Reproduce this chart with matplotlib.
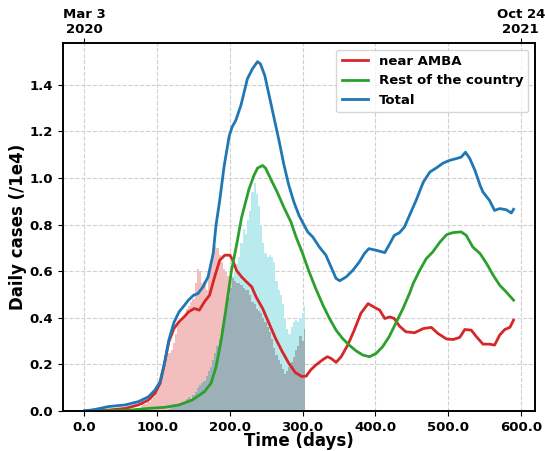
import numpy as np
import matplotlib
matplotlib.use("Agg")
import matplotlib.pyplot as plt

# ---- smoothed curves (daily cases / 1e4) ----
amba_days = [0, 33, 56, 74, 88, 97, 104, 110, 116, 123, 130, 137, 143, 151, 158, 165, 172, 179, 186, 193,
             200, 204, 209, 216, 223, 230, 236, 245, 254, 263, 272, 281, 290, 299, 305, 311, 318, 328, 334,
             339, 346, 353, 362, 371, 380, 390, 396, 406, 413, 420, 426, 433, 442, 454, 466, 477, 486, 498,
             507, 516, 523, 532, 539, 548, 557, 564, 571, 578, 585, 590]
amba_vals = [0.0, 0.004, 0.011, 0.026, 0.047, 0.076, 0.119, 0.204, 0.297, 0.354, 0.383, 0.404, 0.425, 0.44,
             0.433, 0.469, 0.497, 0.576, 0.647, 0.669, 0.669, 0.647, 0.604, 0.576, 0.554, 0.533, 0.49, 0.44,
             0.375, 0.31, 0.255, 0.205, 0.165, 0.148, 0.15, 0.176, 0.197, 0.221, 0.233, 0.226, 0.209, 0.233,
             0.283, 0.347, 0.419, 0.461, 0.45, 0.433, 0.397, 0.404, 0.397, 0.365, 0.34, 0.336, 0.354, 0.359,
             0.333, 0.309, 0.307, 0.316, 0.35, 0.347, 0.319, 0.287, 0.287, 0.283, 0.326, 0.35, 0.359, 0.39]

rest_days = [0, 56, 88, 111, 130, 148, 157, 165, 174, 181, 188, 195, 202, 209, 216, 226, 233, 238, 245, 249,
             256, 265, 274, 284, 291, 300, 309, 318, 328, 337, 346, 355, 364, 374, 383, 392, 401, 410, 419,
             428, 438, 447, 452, 461, 470, 479, 489, 498, 507, 518, 525, 534, 544, 553, 562, 571, 580, 590]
rest_vals = [0.0, 0.002, 0.011, 0.016, 0.026, 0.047, 0.066, 0.083, 0.119, 0.19, 0.304, 0.447, 0.6, 0.71,
             0.83, 0.95, 1.011, 1.043, 1.054, 1.043, 0.997, 0.94, 0.876, 0.811, 0.747, 0.676, 0.597, 0.526,
             0.454, 0.397, 0.347, 0.311, 0.283, 0.257, 0.24, 0.233, 0.247, 0.276, 0.319, 0.376, 0.44, 0.505,
             0.547, 0.604, 0.654, 0.683, 0.726, 0.757, 0.766, 0.769, 0.754, 0.704, 0.676, 0.633, 0.583, 0.54,
             0.511, 0.476]

total_days = [0, 15, 33, 56, 74, 88, 97, 104, 110, 116, 123, 130, 137, 143, 150, 156, 163, 170, 177, 181,
              186, 192, 199, 203, 208, 215, 219, 224, 231, 238, 242, 248, 254, 261, 268, 274, 281, 288, 295,
              300, 307, 314, 323, 332, 339, 346, 351, 360, 369, 378, 385, 391, 401, 413, 420, 426, 433, 440,
              447, 456, 466, 475, 484, 493, 502, 514, 518, 524, 530, 537, 544, 548, 557, 564, 571, 580, 587, 590]
total_vals = [0.0, 0.007, 0.019, 0.026, 0.04, 0.061, 0.09, 0.126, 0.204, 0.304, 0.38, 0.425, 0.452, 0.476,
              0.497, 0.504, 0.533, 0.576, 0.676, 0.80, 0.904, 1.05, 1.18, 1.219, 1.247, 1.311, 1.361, 1.426,
              1.469, 1.5, 1.49, 1.44, 1.354, 1.254, 1.154, 1.061, 0.969, 0.897, 0.84, 0.81, 0.769, 0.747,
              0.704, 0.669, 0.619, 0.569, 0.559, 0.576, 0.604, 0.64, 0.676, 0.697, 0.69, 0.68, 0.719, 0.754,
              0.765, 0.79, 0.84, 0.904, 0.983, 1.026, 1.044, 1.064, 1.076, 1.086, 1.09, 1.111, 1.083, 1.033,
              0.969, 0.94, 0.904, 0.861, 0.869, 0.864, 0.85, 0.866]

# ---- raw daily counts (shaded areas) ----
daily_days = np.arange(78, 306, 3)
amba_daily = [0.02, 0.03, 0.03, 0.04, 0.04, 0.05, 0.06, 0.08, 0.11, 0.14, 0.19, 0.22, 0.24, 0.25, 0.26,
              0.29, 0.33, 0.37, 0.38, 0.40, 0.41, 0.44, 0.45, 0.47, 0.48, 0.55, 0.61, 0.60, 0.55, 0.56,
              0.52, 0.58, 0.62, 0.66, 0.71, 0.70, 0.67, 0.64, 0.61, 0.60, 0.58, 0.57, 0.57, 0.56, 0.55,
              0.55, 0.54, 0.53, 0.52, 0.52, 0.50, 0.47, 0.46, 0.44, 0.43, 0.42, 0.40, 0.38, 0.36, 0.34,
              0.31, 0.27, 0.24, 0.22, 0.20, 0.18, 0.16, 0.17, 0.19, 0.21, 0.23, 0.26, 0.28, 0.32, 0.30, 0.35]
rest_daily = [0.0, 0.0, 0.0, 0.0, 0.0, 0.0, 0.0, 0.0, 0.0, 0.0, 0.0, 0.0, 0.0, 0.01, 0.02,
              0.02, 0.03, 0.02, 0.03, 0.04, 0.03, 0.05, 0.06, 0.05, 0.07, 0.08, 0.10, 0.11, 0.12, 0.13,
              0.15, 0.17, 0.19, 0.22, 0.25, 0.28, 0.31, 0.35, 0.39, 0.44, 0.49, 0.53, 0.58, 0.60, 0.63,
              0.66, 0.72, 0.78, 0.76, 0.82, 0.86, 0.94, 0.98, 0.93, 0.88, 0.80, 0.72, 0.68, 0.66, 0.67,
              0.66, 0.64, 0.56, 0.52, 0.50, 0.46, 0.40, 0.35, 0.33, 0.36, 0.38, 0.39, 0.38, 0.40, 0.42, 0.45]

top_ticks = [0, 600]
top_labels = ["Mar 3\n2020", "Oct 24\n2021"]

plt.rcParams['font.family'] = ['DejaVu Sans']
plt.rcParams['font.weight'] = 'bold'
plt.rcParams['axes.linewidth'] = 1.2

fig = plt.figure(figsize=(5.45, 4.51), dpi=100)
ax = fig.add_axes([0.1156, 0.0887, 0.866, 0.816])
ax.set_axisbelow(True)
ax.grid(True, linestyle='--', color='#d0d0d0', linewidth=0.8)

amba_daily = np.array(amba_daily)
rest_daily = np.array(rest_daily)
ax.fill_between(daily_days, 0, amba_daily, step='mid', color='#f2bebe', lw=0, zorder=1)
ax.fill_between(daily_days, 0, rest_daily, step='mid', color='#b9eaee', lw=0, zorder=1)
ax.fill_between(daily_days, 0, np.minimum(amba_daily, rest_daily), step='mid', color='#9bb0b7', lw=0, zorder=1.5)

ax.plot(amba_days, amba_vals, color='#d62728', lw=2, label='near AMBA', zorder=3)
ax.plot(rest_days, rest_vals, color='#2ca02c', lw=2, label='Rest of the country', zorder=3)
ax.plot(total_days, total_vals, color='#1f77b4', lw=2, label='Total', zorder=3)

ax.set_xlim(-29.5, 619.5)
ax.set_ylim(0, 1.58)
ax.set_xticks(np.arange(0, 601, 100))
ax.set_xticklabels([f"{v:.1f}" for v in np.arange(0, 601, 100)], fontsize=9.5, fontweight='bold')
ax.set_yticks(np.arange(0, 1.41, 0.2))
ax.set_yticklabels([f"{v:.1f}" for v in np.arange(0, 1.41, 0.2)], fontsize=9.5, fontweight='bold')
ax.set_xlabel('Time (days)', fontsize=12, fontweight='bold', labelpad=-1)
ax.set_ylabel('Daily cases (/1e4)', fontsize=12, fontweight='bold', labelpad=2)

leg = ax.legend(loc='upper right', prop={'size': 9.5, 'weight': 'bold'})

ax2 = ax.twiny()
ax2.set_xlim(ax.get_xlim())
ax2.set_xticks(top_ticks)
ax2.set_xticklabels(top_labels, fontsize=9.5, fontweight='bold')
ax2.tick_params(axis='x', pad=1.5)

fig.savefig('out.png', dpi=100)
